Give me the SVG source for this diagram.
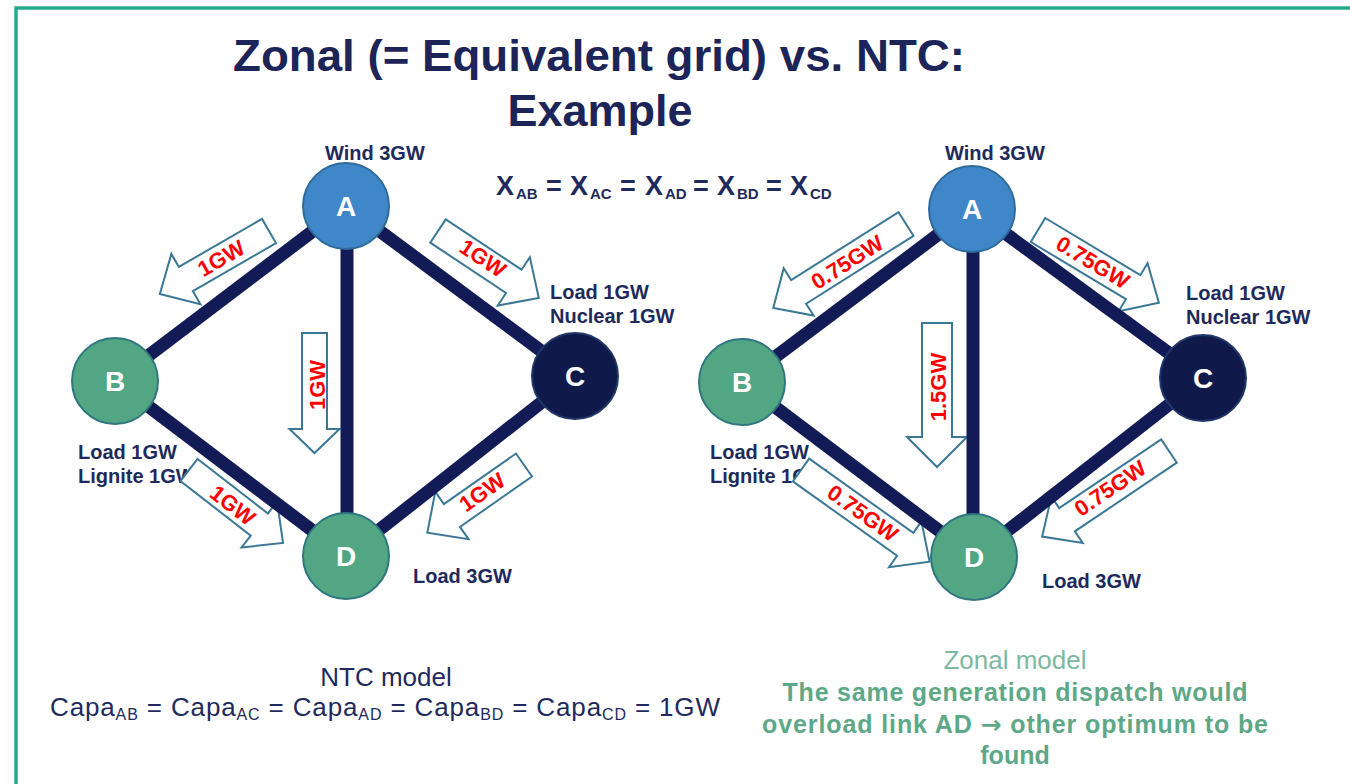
<svg xmlns="http://www.w3.org/2000/svg" width="1350" height="784" viewBox="0 0 1350 784">
  <style>
    .title { font-family: "Liberation Sans", Arial, sans-serif; font-weight: bold; font-size: 45px; fill: #1c2458; text-anchor: middle; }
    .lbl { font-family: "Liberation Sans", Arial, sans-serif; font-weight: bold; font-size: 20px; fill: #1f2a5c; }
    .formula { font-family: "Liberation Sans", Arial, sans-serif; font-weight: bold; font-size: 27px; fill: #1f2a5c; }
    .formula .sub { font-size: 15px; }
    .link { stroke: #131b57; stroke-width: 13; stroke-linecap: butt; }
    .node-a { fill: #3f87c8; stroke: #2f6b9a; stroke-width: 2; }
    .node-g { fill: #52a683; stroke: #2f7680; stroke-width: 2; }
    .node-c { fill: #0f1a4b; stroke: #22386a; stroke-width: 2; }
    .letter { font-family: "Liberation Sans", Arial, sans-serif; font-weight: bold; font-size: 28px; fill: #ffffff; text-anchor: middle; }
    .flow { fill: #ffffff; stroke: #3b7896; stroke-width: 2; stroke-linejoin: miter; }
    .flow-lbl { font-family: "Liberation Sans", Arial, sans-serif; font-weight: bold; font-size: 22px; fill: #ff0000; text-anchor: middle; }
    .ntc { font-family: "Liberation Sans", Arial, sans-serif; font-size: 26px; fill: #1f2a5c; text-anchor: middle; }
    .ntc .sub { font-size: 16px; }
    .zonal-h { font-family: "Liberation Sans", Arial, sans-serif; font-size: 26px; fill: #7db8a0; text-anchor: middle; }
    .zonal { font-family: "Liberation Sans", Arial, sans-serif; font-weight: bold; font-size: 25px; fill: #5ea887; text-anchor: middle; }
    .zonal .arrow { font-family: "DejaVu Sans", sans-serif; font-weight: bold; }
  </style>

  <rect width="1350" height="784" fill="#ffffff"/>
  <!-- slide frame -->
  <path d="M16,784 V8 H1350" fill="none" stroke="#26a98c" stroke-width="3.5"/>

  <!-- heading -->
  <text class="title" x="599" y="71" textLength="732" lengthAdjust="spacingAndGlyphs">Zonal (= Equivalent grid) vs. NTC:</text>
  <text class="title" x="600" y="126">Example</text>

  <!-- reactance equality -->
  <text class="formula" y="195"><tspan x="496">X</tspan><tspan class="sub" x="516" y="199">AB</tspan><tspan x="546" y="195">=</tspan><tspan x="570">X</tspan><tspan class="sub" x="590" y="199">AC</tspan><tspan x="620" y="195">=</tspan><tspan x="645">X</tspan><tspan class="sub" x="665" y="199">AD</tspan><tspan x="693" y="195">=</tspan><tspan x="717">X</tspan><tspan class="sub" x="737" y="199">BD</tspan><tspan x="766" y="195">=</tspan><tspan x="790">X</tspan><tspan class="sub" x="810" y="199">CD</tspan></text>

  <!-- zone annotations -->
  <g id="annotations">
    <text class="lbl" x="325" y="160">Wind 3GW</text>
    <text class="lbl" x="550" y="299">Load 1GW</text>
    <text class="lbl" x="550" y="323">Nuclear 1GW</text>
    <text class="lbl" x="78" y="459">Load 1GW</text>
    <text class="lbl" x="78" y="483">Lignite 1GW</text>
    <text class="lbl" x="413" y="583">Load 3GW</text>

    <text class="lbl" x="945" y="160">Wind 3GW</text>
    <text class="lbl" x="1186" y="300">Load 1GW</text>
    <text class="lbl" x="1186" y="324">Nuclear 1GW</text>
    <text class="lbl" x="710" y="459">Load 1GW</text>
    <text class="lbl" x="710" y="483">Lignite 1GW</text>
    <text class="lbl" x="1042" y="588">Load 3GW</text>
  </g>

  <!-- flow arrows -->
  <g id="flows">
    <!-- NTC model -->
    <path class="flow" transform="translate(269,231) rotate(150)" d="M0,-14H96V-29L126,0L96,29V14H0Z"/>
    <path class="flow" transform="translate(438,231) rotate(33.6)" d="M0,-14H91V-29L121,0L91,29V14H0Z"/>
    <path class="flow" transform="translate(314.5,333) rotate(90)" d="M0,-12.5H96V-25L120,0L96,25V12.5H0Z"/>
    <path class="flow" transform="translate(189,470) rotate(37.8)" d="M0,-14H89V-29L119,0L89,29V14H0Z"/>
    <path class="flow" transform="translate(524,465) rotate(145)" d="M0,-14H88V-29L118,0L88,29V14H0Z"/>
    <text class="flow-lbl" transform="translate(221,258) rotate(-30)" dy="0.36em">1GW</text>
    <text class="flow-lbl" transform="translate(483,258) rotate(33.6)" dy="0.36em">1GW</text>
    <text class="flow-lbl" transform="translate(317,385) rotate(-90)" dy="0.36em">1GW</text>
    <text class="flow-lbl" transform="translate(233,505) rotate(37.8)" dy="0.36em">1GW</text>
    <text class="flow-lbl" transform="translate(482,492) rotate(-35)" dy="0.36em">1GW</text>

    <!-- Zonal model -->
    <path class="flow" transform="translate(906,224) rotate(147.7)" d="M0,-14H127V-28L157,0L127,28V14H0Z"/>
    <path class="flow" transform="translate(1038,230) rotate(31)" d="M0,-14H111V-28L141,0L111,28V14H0Z"/>
    <path class="flow" transform="translate(937,323) rotate(90)" d="M0,-15H114V-30L144,0L114,30V15H0Z"/>
    <path class="flow" transform="translate(801,470) rotate(35.5)" d="M0,-14H128V-28L158,0L128,28V14H0Z"/>
    <path class="flow" transform="translate(1169,451) rotate(146)" d="M0,-14H123V-28L153,0L123,28V14H0Z"/>
    <text class="flow-lbl" transform="translate(847,262) rotate(-32.3)" dy="0.36em">0.75GW</text>
    <text class="flow-lbl" transform="translate(1093,262) rotate(31)" dy="0.36em">0.75GW</text>
    <text class="flow-lbl" transform="translate(938,387) rotate(-90)" dy="0.36em">1.5GW</text>
    <text class="flow-lbl" transform="translate(863,513) rotate(35.5)" dy="0.36em">0.75GW</text>
    <text class="flow-lbl" transform="translate(1110,488) rotate(-34)" dy="0.36em">0.75GW</text>
  </g>

  <!-- transmission links -->
  <g id="connectors">
    <line class="link" x1="346" y1="206" x2="115" y2="381"/>
    <line class="link" x1="346" y1="206" x2="575" y2="376"/>
    <line class="link" x1="347" y1="206" x2="347" y2="556"/>
    <line class="link" x1="115" y1="381" x2="346" y2="556"/>
    <line class="link" x1="575" y1="376" x2="346" y2="556"/>

    <line class="link" x1="972" y1="209" x2="742" y2="382"/>
    <line class="link" x1="972" y1="209" x2="1203" y2="378"/>
    <line class="link" x1="973" y1="209" x2="973" y2="557"/>
    <line class="link" x1="742" y1="382" x2="974" y2="557"/>
    <line class="link" x1="1203" y1="378" x2="974" y2="557"/>
  </g>

  <!-- NTC model zones -->
  <g id="ntc-A"><circle class="node-a" cx="346" cy="206" r="43"/><text class="letter" x="346" y="216">A</text></g>
  <g id="ntc-B"><circle class="node-g" cx="115" cy="381" r="43"/><text class="letter" x="115" y="391">B</text></g>
  <g id="ntc-C"><circle class="node-c" cx="575" cy="376" r="43"/><text class="letter" x="575" y="386">C</text></g>
  <g id="ntc-D"><circle class="node-g" cx="346" cy="556" r="43"/><text class="letter" x="346" y="566">D</text></g>

  <!-- Zonal model zones -->
  <g id="zonal-A"><circle class="node-a" cx="972" cy="209" r="43"/><text class="letter" x="972" y="219">A</text></g>
  <g id="zonal-B"><circle class="node-g" cx="742" cy="382" r="43"/><text class="letter" x="742" y="392">B</text></g>
  <g id="zonal-C"><circle class="node-c" cx="1203" cy="378" r="43"/><text class="letter" x="1203" y="388">C</text></g>
  <g id="zonal-D"><circle class="node-g" cx="974" cy="557" r="43"/><text class="letter" x="974" y="567">D</text></g>

  <!-- captions -->
  <text class="ntc" x="386" y="686">NTC model</text>
  <text class="ntc" x="385" y="716" textLength="670" lengthAdjust="spacing">Capa<tspan class="sub" dy="4">AB</tspan><tspan dy="-4"> = Capa</tspan><tspan class="sub" dy="4">AC</tspan><tspan dy="-4"> = Capa</tspan><tspan class="sub" dy="4">AD</tspan><tspan dy="-4">  = Capa</tspan><tspan class="sub" dy="4">BD</tspan><tspan dy="-4">  = Capa</tspan><tspan class="sub" dy="4">CD</tspan><tspan dy="-4"> = 1GW</tspan></text>

  <text class="zonal-h" x="1015" y="669">Zonal model</text>
  <text class="zonal" x="1015" y="701" textLength="465" lengthAdjust="spacing">The same generation dispatch would</text>
  <text class="zonal" x="1015" y="733" textLength="506" lengthAdjust="spacing">overload link AD <tspan class="arrow">→</tspan> other optimum to be</text>
  <text class="zonal" x="1015" y="764">found</text>
</svg>
